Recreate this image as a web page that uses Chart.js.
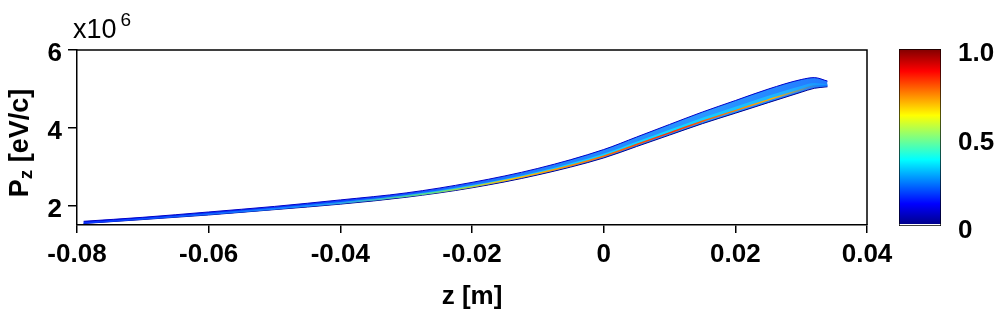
<!DOCTYPE html>
<html>
<head>
    <meta charset="utf-8">
    <script src="https://cdn.jsdelivr.net/npm/chart.js"></script>
    <style>
        body { margin: 0; background: #fff; }
        #wrap { position: relative; width: 996px; height: 318px; }
        #mainChart { position: absolute; left: 0; top: 0; }
        #barChart { position: absolute; left: 880px; top: 0; }
    </style>
</head>
<body>
    <div id="wrap">
        <canvas id="mainChart" width="996" height="318"></canvas>
        <canvas id="barChart" width="116" height="318"></canvas>
    </div>
    <script>
        // phase space band (Pz in units of 1e6 eV/c)
        const zValues = [-0.079, -0.07, -0.06, -0.05, -0.04, -0.03, -0.02, -0.01, 0, 0.005, 0.01, 0.015, 0.02, 0.025, 0.03, 0.032, 0.034];
        const pzTop = [1.595, 1.698, 1.835, 1.978, 2.145, 2.325, 2.596, 2.955, 3.440, 3.762, 4.085, 4.405, 4.700, 4.995, 5.240, 5.290, 5.200];
        const pzMid = [1.564, 1.667, 1.795, 1.936, 2.090, 2.269, 2.526, 2.872, 3.333, 3.641, 3.949, 4.256, 4.538, 4.821, 5.077, 5.154, 5.128];
        const pzRidge = [1.550, 1.652, 1.775, 1.913, 2.060, 2.238, 2.486, 2.822, 3.268, 3.568, 3.868, 4.168, 4.442, 4.718, 4.980, 5.072, 5.085];
        const pzBottom = [1.538, 1.640, 1.758, 1.895, 2.036, 2.213, 2.456, 2.788, 3.224, 3.518, 3.812, 4.106, 4.375, 4.646, 4.914, 5.015, 5.055];

        const xTicks = [-0.08, -0.06, -0.04, -0.02, 0, 0.02, 0.04];
        const yTicks = [2, 4, 6];
        const cbarTicks = [0, 0.5, 1];
        const cbarLabels = ['0', '0.5', '1.0'];
        const cbarRange = [0, 1];

        const FONT = "'Liberation Sans', Arial, sans-serif";

        function pts(arr) {
            return zValues.map((z, i) => ({ x: z, y: arr[i] }));
        }

        // horizontal gradient across the plot area
        function hGrad(stops) {
            return function (ctx) {
                const chart = ctx.chart;
                const a = chart.chartArea;
                if (!a) return stops[0][1];
                const g = chart.ctx.createLinearGradient(a.left, 0, a.right, 0);
                stops.forEach(s => g.addColorStop(s[0], s[1]));
                return g;
            };
        }

        const lineBase = {
            pointRadius: 0,
            cubicInterpolationMode: 'monotone',
            fill: false
        };

        // frame, y axis title with subscript, exponent label
        const extraText = {
            id: 'extraText',
            afterDraw(chart) {
                const c = chart.ctx;
                const a = chart.chartArea;
                c.save();
                c.strokeStyle = '#000';
                c.lineWidth = 1.5;
                c.beginPath();
                c.moveTo(a.left, a.top);
                c.lineTo(a.right, a.top);
                c.lineTo(a.right, a.bottom);
                c.stroke();

                c.fillStyle = '#000';
                c.textBaseline = 'alphabetic';
                c.font = "27px " + FONT;
                c.fillText('x10', 73, 38);
                const w10 = c.measureText('x10').width;
                c.font = "19px " + FONT;
                c.fillText('6', 73 + w10 + 4, 26);

                c.translate(28, 143);
                c.rotate(-Math.PI / 2);
                c.font = "bold 27px " + FONT;
                const wP = c.measureText('P').width;
                const wRest = c.measureText(' [eV/c]').width;
                c.font = "bold 19px " + FONT;
                const wZ = c.measureText('z').width;
                let x = -(wP + wZ + wRest) / 2;
                c.font = "bold 27px " + FONT;
                c.fillText('P', x, 0);
                x += wP;
                c.font = "bold 19px " + FONT;
                c.fillText('z', x, 4);
                x += wZ;
                c.font = "bold 27px " + FONT;
                c.fillText(' [eV/c]', x, 0);
                c.restore();
            }
        };

        new Chart(document.getElementById('mainChart'), {
            type: 'line',
            data: {
                datasets: [
                    Object.assign({}, lineBase, {
                        label: 'top',
                        data: pts(pzTop),
                        borderColor: '#0000c8',
                        borderWidth: 1,
                        order: 3
                    }),
                    Object.assign({}, lineBase, {
                        label: 'bottom',
                        data: pts(pzBottom),
                        borderColor: '#000090',
                        borderWidth: 1,
                        fill: { target: 0 },
                        backgroundColor: hGrad([[0, '#0020f0'], [0.35, '#1048ff'], [0.6, '#2080ff'], [0.8, '#2a98ff'], [1, '#2070ff']]),
                        order: 4
                    }),
                    Object.assign({}, lineBase, {
                        label: 'mid',
                        data: pts(pzMid),
                        borderColor: 'rgba(0,0,0,0)',
                        borderWidth: 0,
                        order: 2
                    }),
                    Object.assign({}, lineBase, {
                        label: 'ridge',
                        data: pts(pzRidge),
                        borderColor: hGrad([[0, '#0830ff'], [0.3, '#1890ff'], [0.45, '#60e080'], [0.55, '#ffc000'], [0.75, '#ff3000'], [0.88, '#ffb000'], [0.94, '#1080ff'], [1, '#0040ff']]),
                        borderWidth: 1.5,
                        fill: { target: 2 },
                        backgroundColor: hGrad([[0, '#0838ff'], [0.3, '#1880ff'], [0.5, '#18c0ff'], [0.75, '#10d8ff'], [0.9, '#20b0ff'], [1, '#1070ff']]),
                        order: 1
                    })
                ]
            },
            options: {
                responsive: false,
                animation: false,
                devicePixelRatio: 1,
                layout: { padding: { top: 50, right: 129, left: 0, bottom: 0 } },
                plugins: {
                    legend: { display: false },
                    tooltip: { enabled: false }
                },
                scales: {
                    x: {
                        type: 'linear',
                        min: -0.08,
                        max: 0.04,
                        afterBuildTicks: s => { s.ticks = xTicks.map(v => ({ value: v })); },
                        afterFit: s => { s.height = 93; },
                        ticks: {
                            color: '#000',
                            font: { family: FONT, size: 26, weight: 'bold' },
                            padding: 6,
                            maxRotation: 0,
                            autoSkip: false,
                            callback: v => (v === 0 ? '0' : v.toFixed(2))
                        },
                        grid: { drawOnChartArea: false, color: '#000', tickLength: 8, lineWidth: 1.5 },
                        border: { color: '#000', width: 1.5 },
                        title: {
                            display: true,
                            text: 'z [m]',
                            color: '#000',
                            font: { family: FONT, size: 26, weight: 'bold' },
                            padding: { top: 0, bottom: 6 }
                        }
                    },
                    y: {
                        min: 1.5,
                        max: 6,
                        afterBuildTicks: s => { s.ticks = yTicks.map(v => ({ value: v })); },
                        afterFit: s => { s.width = 77; },
                        ticks: {
                            color: '#000',
                            font: { family: FONT, size: 26, weight: 'bold' },
                            padding: 6,
                            labelOffset: 4,
                            callback: v => String(v)
                        },
                        grid: { drawOnChartArea: false, color: '#000', tickLength: 9, lineWidth: 1.5 },
                        border: { color: '#000', width: 1.5 }
                    }
                }
            },
            plugins: [extraText]
        });

        // colour bar
        const jet = [
            [0, '#ffffff'], [0.012, '#ffffff'], [0.013, '#00008f'], [0.125, '#0000ff'],
            [0.375, '#00ffff'], [0.5, '#80ff80'], [0.625, '#ffff00'],
            [0.875, '#ff0000'], [1, '#800000']
        ];
        new Chart(document.getElementById('barChart'), {
            type: 'bar',
            data: {
                labels: [''],
                datasets: [{
                    data: [cbarRange],
                    backgroundColor: function (ctx) {
                        const a = ctx.chart.chartArea;
                        if (!a) return '#00f';
                        const g = ctx.chart.ctx.createLinearGradient(0, a.bottom, 0, a.top);
                        jet.forEach(s => g.addColorStop(s[0], s[1]));
                        return g;
                    },
                    borderColor: '#000',
                    borderWidth: 1,
                    borderSkipped: false,
                    barPercentage: 1,
                    categoryPercentage: 1
                }]
            },
            options: {
                responsive: false,
                animation: false,
                devicePixelRatio: 1,
                layout: { padding: { top: 49, right: 0, left: 19, bottom: 92 } },
                plugins: { legend: { display: false }, tooltip: { enabled: false } },
                scales: {
                    x: { display: false },
                    y: {
                        position: 'right',
                        min: 0,
                        max: 1,
                        afterBuildTicks: s => { s.ticks = cbarTicks.map(v => ({ value: v })); },
                        afterFit: s => { s.width = 55; },
                        ticks: {
                            color: '#000',
                            font: { family: FONT, size: 26, weight: 'bold' },
                            padding: 9,
                            labelOffset: 5,
                            callback: (v, i) => cbarLabels[i]
                        },
                        grid: { display: false },
                        border: { display: false }
                    }
                }
            }
        });
    </script>
</body>
</html>
